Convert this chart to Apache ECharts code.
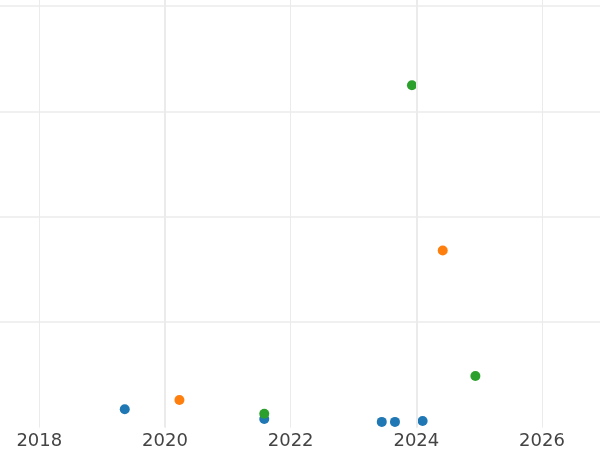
<!DOCTYPE html>
<html>
<head>
<meta charset="utf-8">
<script src="https://cdn.jsdelivr.net/npm/echarts@6/dist/echarts.min.js"></script>
<style>html,body{margin:0;padding:0;background:#fff}#c{width:600px;height:450px}</style>
</head>
<body>
<div id="c"></div>
<script>
// Data (decimal years, values)
const blueX = [2019.36, 2021.58, 2023.45, 2023.66, 2024.10];
const blueY = [8.7, 4.1, 2.7, 2.7, 3.1];
const orangeX = [2020.23, 2024.42];
const orangeY = [13.1, 84.0];
const greenX = [2021.58, 2023.93, 2024.94];
const greenY = [6.6, 162.4, 24.5];
const xTicks = [2016, 2018, 2020, 2022, 2024, 2026, 2028];
const emphasisYears = [2020, 2024];

function pairs(xs, ys) { return xs.map((x, i) => [x, ys[i]]); }

const chart = echarts.init(document.getElementById('c'), null, {renderer: 'canvas'});
chart.setOption({
  animation: false,
  backgroundColor: '#ffffff',
  grid: {left: -86.4, right: -67.7, top: -99.3, bottom: 22.4, containLabel: false, outerBoundsMode: 'none'},
  xAxis: {
    type: 'value', min: xTicks[0], max: xTicks[xTicks.length - 1], interval: 2,
    axisLine: {show: false}, axisTick: {show: false},
    axisLabel: {fontFamily: 'DejaVu Sans', fontSize: 18, color: '#444444', margin: 5,
      formatter: v => String(v)},
    splitLine: {show: true, lineStyle: {color: '#ebebeb', width: 1}}
  },
  yAxis: {
    type: 'value', min: 0, max: 250, interval: 50,
    axisLine: {show: false}, axisTick: {show: false}, axisLabel: {show: false},
    splitLine: {show: true, showMinLine: false, lineStyle: {color: '#ebebeb', width: 1.5}}
  },
  series: [
    {type: 'scatter', z: 1, data: [], silent: true,
      markLine: {silent: true, symbol: 'none', label: {show: false},
        lineStyle: {color: '#ebebeb', width: 2, type: 'solid'},
        emphasis: {disabled: true},
        data: emphasisYears.map(y => ({xAxis: y}))}},
    {type: 'scatter', symbolSize: 10, itemStyle: {color: '#1f77b4', opacity: 1}, data: pairs(blueX, blueY)},
    {type: 'scatter', symbolSize: 10, itemStyle: {color: '#ff7f0e', opacity: 1}, data: pairs(orangeX, orangeY)},
    {type: 'scatter', symbolSize: 10, itemStyle: {color: '#2ca02c', opacity: 1}, data: pairs(greenX, greenY)}
  ]
});
</script>
</body>
</html>
